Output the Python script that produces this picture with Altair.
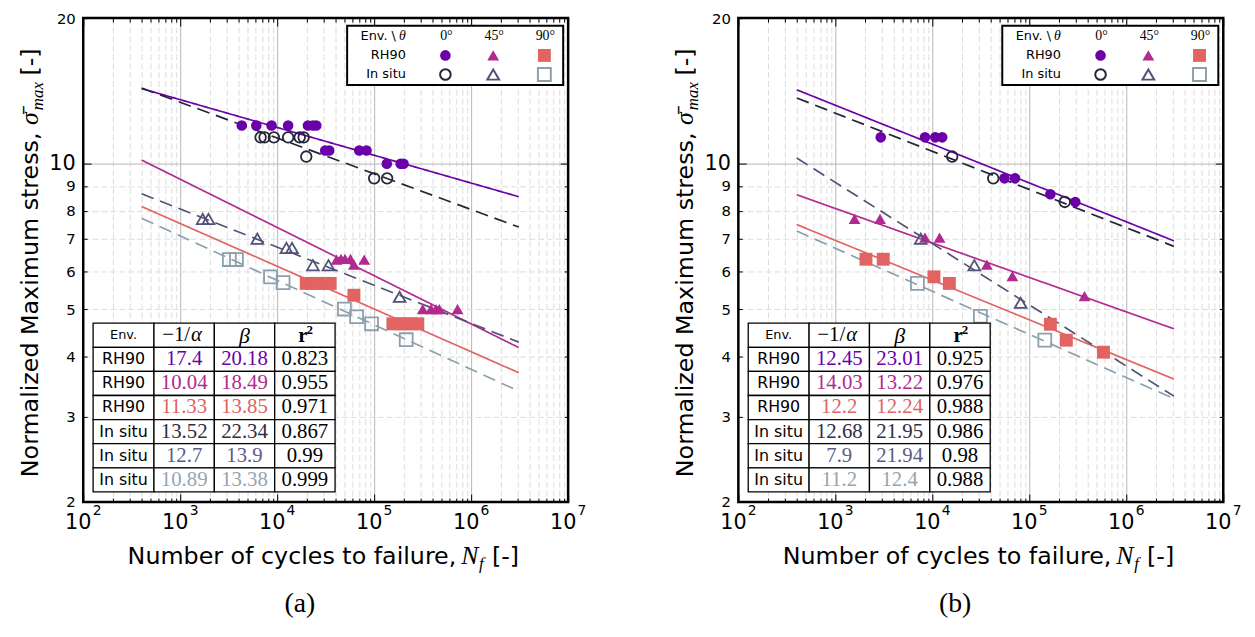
import altair as alt
import pandas as pd

# ---------------- data ----------------
SERIES = ["RH90 0°", "RH90 45°", "RH90 90°", "In situ 0°", "In situ 45°", "In situ 90°"]
SERIES_COLORS = ["#6a00a8", "#b12a90", "#e16462", "#25253a", "#525278", "#8b9fad"]
ANGLES = ["0°", "45°", "90°"]
ENVS = ["RH90", "In situ"]

X_TICKS = [m * 10 ** d for d in range(2, 7) for m in range(1, 10)] + [10 ** 7]
X_MAJOR = [100, 1000, 10000, 100000, 1000000, 10000000]
X_MAJOR_BASE = ["10", "10", "10", "10", "10", "10"]
X_MAJOR_EXP = ["2", "3", "4", "5", "6", "7"]
Y_TICKS = [2, 3, 4, 5, 6, 7, 8, 9, 10, 20]

# panel (a) test points
a_rh90_0_N = [4315, 6095, 8750, 12970, 20760, 23380, 25300, 31300, 34400, 70200, 83400, 135000, 187600, 201000]
a_rh90_0_S = [12.0, 12.0, 12.0, 12.0, 12.0, 12.0, 12.0, 10.65, 10.65, 10.65, 10.65, 10.0, 10.0, 10.0]
a_rh90_45_N = [41000, 45500, 50000, 57000, 61800, 79000, 317000, 386000, 435000, 470000, 724000]
a_rh90_45_S = [6.34, 6.36, 6.36, 6.36, 6.19, 6.34, 5.01, 5.01, 5.01, 5.01, 5.01]
a_rh90_90_N = [19950, 22900, 26300, 30200, 35200, 61800, 156000, 182000, 209000, 245000, 282000]
a_rh90_90_S = [5.66, 5.66, 5.66, 5.66, 5.66, 5.35, 4.67, 4.67, 4.67, 4.67, 4.67]
a_situ_0_N = [6745, 7410, 9250, 12970, 17070, 18750, 19950, 100000, 136000]
a_situ_0_S = [11.34, 11.34, 11.34, 11.34, 11.34, 11.34, 10.35, 9.33, 9.33]
a_situ_45_N = [1706, 1954, 6240, 12440, 14220, 23350, 33800, 183000]
a_situ_45_S = [7.69, 7.69, 7.00, 6.70, 6.70, 6.17, 6.17, 5.31]
a_situ_90_N = [3210, 3800, 8540, 11500, 49300, 65900, 94000, 214000]
a_situ_90_S = [6.34, 6.34, 5.84, 5.68, 5.01, 4.83, 4.67, 4.33]

# panel (b) test points
b_rh90_0_N = [2940, 8410, 10730, 12650, 55500, 71300, 165000, 298000]
b_rh90_0_S = [11.34, 11.34, 11.34, 11.34, 9.33, 9.33, 8.65, 8.34]
b_rh90_45_N = [1578, 2890, 8410, 11890, 36550, 67000, 371000]
b_rh90_45_S = [7.69, 7.69, 7.04, 7.04, 6.19, 5.86, 5.33]
b_rh90_90_N = [2070, 3120, 10400, 15000, 165000, 241000, 582000]
b_rh90_90_S = [6.35, 6.35, 5.84, 5.66, 4.66, 4.32, 4.08]
b_situ_0_N = [16030, 42500, 232000]
b_situ_0_S = [10.35, 9.33, 8.34]
b_situ_45_N = [7600, 27100, 81500]
b_situ_45_S = [7.00, 6.17, 5.16]
b_situ_90_N = [7020, 31300, 144600]
b_situ_90_S = [5.66, 4.84, 4.32]

# fitted lines (end points)
FIT_N = [400, 3100000]
a_fit_S = {
    "RH90 0°": [14.30, 8.55], "RH90 45°": [10.18, 4.17], "RH90 90°": [8.16, 3.70],
    "In situ 0°": [14.34, 7.40], "In situ 45°": [8.67, 4.28], "In situ 90°": [7.72, 3.39],
}
b_fit_S = {
    "RH90 0°": [14.22, 6.93], "RH90 45°": [8.63, 4.56], "RH90 90°": [7.49, 3.59],
    "In situ 0°": [13.68, 6.75], "In situ 45°": [10.28, 3.31], "In situ 90°": [7.26, 3.27],
}

# tables
TABLE_ENV = ["RH90", "RH90", "RH90", "In situ", "In situ", "In situ"]
a_inv_alpha = ["17.4", "10.04", "11.33", "13.52", "12.7", "10.89"]
a_beta = ["20.18", "18.49", "13.85", "22.34", "13.9", "13.38"]
a_r2 = ["0.823", "0.955", "0.971", "0.867", "0.99", "0.999"]
b_inv_alpha = ["12.45", "14.03", "12.2", "12.68", "7.9", "11.2"]
b_beta = ["23.01", "13.22", "12.24", "21.95", "21.94", "12.4"]
b_r2 = ["0.925", "0.976", "0.988", "0.986", "0.98", "0.988"]
TEXT_COLORS = ["#6a00a8", "#b12a90", "#e16462", "#2e2e45", "#5c5c85", "#93a5b3"]

# ---------------- layout ----------------
W, H = 490, 489
SANS = "DejaVu Sans"
SERIF = "Liberation Serif"
DECADE = "abs(log(datum.value)/LN10 - round(log(datum.value)/LN10)) < 0.01"

xs = alt.Scale(type="log", domain=[100, 1e7], nice=False)
ys = alt.Scale(type="log", domain=[2, 20], nice=False)
cs = alt.Scale(domain=SERIES, range=SERIES_COLORS)
shp = alt.Scale(domain=ANGLES, range=["circle", "triangle-up", "square"])

MINOR_TICK = [0, 4, 4, 30]

x_bottom = alt.Axis(
    values=X_TICKS, orient="bottom", offset=-8, domain=False, title=None,
    ticks=True, tickSize=8, tickColor="black", tickWidth=1,
    tickDash={"condition": {"test": DECADE, "value": []}, "value": MINOR_TICK},
    grid=True, gridWidth=1,
    gridColor={"condition": {"test": DECADE, "value": "#b5b5b5"}, "value": "#dddddd"},
    gridDash={"condition": {"test": DECADE, "value": []}, "value": [6, 3]},
    labels=False,
)
x_top = alt.Axis(
    values=X_TICKS, orient="top", offset=-8, domain=False, title=None,
    ticks=True, tickSize=8, tickColor="black", tickWidth=1,
    tickDash={"condition": {"test": DECADE, "value": []}, "value": MINOR_TICK},
    grid=False, labels=False,
)
Y_MAJOR = "datum.value == 10"
y_left = alt.Axis(
    values=Y_TICKS, orient="left", offset=-8, domain=False, title=None,
    ticks=True, tickSize=8, tickColor="black", tickWidth=1,
    tickDash={"condition": {"test": Y_MAJOR, "value": []}, "value": MINOR_TICK},
    grid=True, gridWidth=1,
    gridColor={"condition": {"test": Y_MAJOR, "value": "#b5b5b5"}, "value": "#dddddd"},
    gridDash={"condition": {"test": Y_MAJOR, "value": []}, "value": [6, 3]},
    labelExpr="'' + datum.value",
    labelFont=SANS, labelColor="black", labelPadding=8,
    labelFontSize={"condition": {"test": Y_MAJOR, "value": 21}, "value": 15},
    labelOverlap=False, labelBound=False, labelFlush=False,
)
y_right = alt.Axis(
    values=Y_TICKS, orient="right", offset=-8, domain=False, title=None,
    ticks=True, tickSize=8, tickColor="black", tickWidth=1,
    tickDash={"condition": {"test": Y_MAJOR, "value": []}, "value": MINOR_TICK},
    grid=False, labels=False,
)

TBL_X = [10, 71.5, 132.5, 193.5, 254.5]
TBL_Y0, TBL_RH = 308.3, 24.35
LEG_BOX = (266.7, 485, 7.7, 67.7)
LEG_COLS = [366, 414.3, 466]
LEG_ROWS = [37.7, 57]
LEG_HEAD_Y = 17.7

PT_FILLED = [115, 170, 115]
PT_OPEN = [80, 120, 90]
LEG_FILLED = [115, 180, 125]
LEG_OPEN = [75, 120, 95]


def text_layer(df, font, size, style="normal", weight="normal", align="center", baseline="middle", angle=0):
    return alt.Chart(df).mark_text(
        font=font, fontSize=size, fontStyle=style, fontWeight=weight,
        align=align, baseline=baseline, angle=angle,
    ).encode(
        x=alt.X("px:Q", scale=None, axis=None),
        y=alt.Y("py:Q", scale=None, axis=None),
        text="t:N",
        color=alt.Color("c:N", scale=None),
    )


def one_text(t, px, py, font, size, **kw):
    return text_layer(pd.DataFrame({"t": [t], "px": [px], "py": [py], "c": ["black"]}), font, size, **kw)


def panel(pts_map, fit_map, inv_alpha, beta, r2, letter):
    rows = []
    for s, (Ns, Ss) in pts_map.items():
        env, ang = s.rsplit(" ", 1)
        for n, v in zip(Ns, Ss):
            rows.append(dict(N=n, S=v, series=s, env=env, angle=ang))
    pts = pd.DataFrame(rows)
    lrows = []
    for s, Ss in fit_map.items():
        env, ang = s.rsplit(" ", 1)
        for n, v in zip(FIT_N, Ss):
            lrows.append(dict(N=n, S=v, series=s, env=env))
    fits = pd.DataFrame(lrows)

    lines = alt.Chart(fits).mark_line(strokeWidth=1.7, clip=True).encode(
        x=alt.X("N:Q", scale=xs, axis=x_bottom),
        y=alt.Y("S:Q", scale=ys, axis=y_left),
        color=alt.Color("series:N", scale=cs, legend=None),
        strokeDash=alt.StrokeDash("env:N", scale=alt.Scale(domain=ENVS, range=[[1, 0], [13, 7]]), legend=None),
        detail="series:N",
    )
    filled = alt.Chart(pts[pts.env == "RH90"]).mark_point(filled=True, opacity=1).encode(
        x=alt.X("N:Q", scale=xs, axis=x_top),
        y=alt.Y("S:Q", scale=ys, axis=y_right),
        color=alt.Color("series:N", scale=cs, legend=None),
        shape=alt.Shape("angle:N", scale=shp, legend=None),
        size=alt.Size("angle:O", scale=alt.Scale(domain=ANGLES, range=PT_FILLED), legend=None),
    )
    opened = alt.Chart(pts[pts.env == "In situ"]).mark_point(filled=False, opacity=1, strokeWidth=1.8).encode(
        x=alt.X("N:Q", scale=xs, axis=None),
        y=alt.Y("S:Q", scale=ys, axis=None),
        color=alt.Color("series:N", scale=cs, legend=None),
        shape=alt.Shape("angle:N", scale=shp, legend=None),
        size=alt.Size("angle:O", scale=alt.Scale(domain=ANGLES, range=PT_OPEN), legend=None),
    )

    # x tick labels 10^k drawn through the x scale
    xlab = pd.DataFrame({"v": X_MAJOR, "b": X_MAJOR_BASE, "e": X_MAJOR_EXP})
    xlab_base = alt.Chart(xlab).mark_text(
        font=SANS, fontSize=21, baseline="top", align="center", dx=-5, color="black"
    ).encode(x=alt.X("v:Q", scale=xs, axis=None), y=alt.value(H + 10), text="b:N")
    xlab_exp = alt.Chart(xlab).mark_text(
        font=SANS, fontSize=14, baseline="top", align="center", dx=14, color="black"
    ).encode(x=alt.X("v:Q", scale=xs, axis=None), y=alt.value(H + 2), text="e:N")

    # table
    cells = []
    for r in range(7):
        for c in range(4):
            cells.append(dict(x1=TBL_X[c], x2=TBL_X[c + 1], y1=TBL_Y0 + r * TBL_RH, y2=TBL_Y0 + (r + 1) * TBL_RH))
    cell_rects = alt.Chart(pd.DataFrame(cells)).mark_rect(fill="white", stroke="black", strokeWidth=1.3).encode(
        x=alt.X("x1:Q", scale=None, axis=None), x2="x2:Q",
        y=alt.Y("y1:Q", scale=None, axis=None), y2="y2:Q",
    )
    cx = [(TBL_X[i] + TBL_X[i + 1]) / 2 for i in range(4)]
    cy = [TBL_Y0 + (r + 0.5) * TBL_RH for r in range(7)]
    env_df = pd.DataFrame({"t": TABLE_ENV, "px": cx[0], "py": cy[1:], "c": "black"})
    num_df = pd.DataFrame({
        "t": inv_alpha + beta + r2,
        "px": [cx[1]] * 6 + [cx[2]] * 6 + [cx[3]] * 6,
        "py": cy[1:] * 3,
        "c": TEXT_COLORS + TEXT_COLORS + ["black"] * 6,
    })
    tbl = [
        cell_rects,
        text_layer(env_df, SANS, 16),
        text_layer(num_df, SERIF, 21),
        one_text("Env.", cx[0], cy[0], SANS, 13),
        one_text("−1/", cx[1] + 6, cy[0], SERIF, 21, align="right"),
        one_text("α", cx[1] + 7, cy[0], SERIF, 21, style="italic", align="left"),
        one_text("β", cx[2], cy[0] + 1, SERIF, 22, style="italic"),
        one_text("r", cx[3] - 2, cy[0] + 1, SERIF, 21, weight="bold"),
        one_text("2", cx[3] + 5, cy[0] - 5, SERIF, 13, weight="bold"),
    ]

    # legend
    box = alt.Chart(pd.DataFrame({"a": [0]})).mark_rect(fill="white", stroke="black", strokeWidth=2).encode(
        x=alt.value(LEG_BOX[0]), x2=alt.value(LEG_BOX[1]), y=alt.value(LEG_BOX[2]), y2=alt.value(LEG_BOX[3])
    )
    lm = []
    for s in SERIES:
        env, ang = s.rsplit(" ", 1)
        lm.append(dict(px=LEG_COLS[ANGLES.index(ang)], py=LEG_ROWS[ENVS.index(env)], series=s, env=env, angle=ang))
    lm = pd.DataFrame(lm)
    leg_f = alt.Chart(lm[lm.env == "RH90"]).mark_point(filled=True, opacity=1).encode(
        x=alt.X("px:Q", scale=None, axis=None), y=alt.Y("py:Q", scale=None, axis=None),
        color=alt.Color("series:N", scale=cs, legend=None),
        shape=alt.Shape("angle:N", scale=shp, legend=None),
        size=alt.Size("angle:O", scale=alt.Scale(domain=ANGLES, range=LEG_FILLED), legend=None),
    )
    leg_o = alt.Chart(lm[lm.env == "In situ"]).mark_point(filled=False, opacity=1, strokeWidth=2).encode(
        x=alt.X("px:Q", scale=None, axis=None), y=alt.Y("py:Q", scale=None, axis=None),
        color=alt.Color("series:N", scale=cs, legend=None),
        shape=alt.Shape("angle:N", scale=shp, legend=None),
        size=alt.Size("angle:O", scale=alt.Scale(domain=ANGLES, range=LEG_OPEN), legend=None),
    )
    leg = [
        box, leg_f, leg_o,
        one_text("Env. \\", 316, LEG_HEAD_Y, SANS, 13, align="right"),
        one_text("θ", 319, LEG_HEAD_Y, SERIF, 14, style="italic", align="left"),
        one_text(ANGLES[0], LEG_COLS[0] + 1, LEG_HEAD_Y, SERIF, 14),
        one_text(ANGLES[1], LEG_COLS[1] + 1, LEG_HEAD_Y, SERIF, 14),
        one_text(ANGLES[2], LEG_COLS[2] + 1, LEG_HEAD_Y, SERIF, 14),
        one_text(ENVS[0], 326, LEG_ROWS[0], SANS, 13, align="right"),
        one_text(ENVS[1], 326, LEG_ROWS[1], SANS, 13, align="right"),
    ]

    # axis titles
    XB = 552
    YB = -45.5
    titles = [
        one_text("Number of cycles to failure,", 377, XB, SANS, 24, align="right", baseline="alphabetic"),
        one_text("N", 382, XB, SERIF, 26, style="italic", align="left", baseline="alphabetic"),
        one_text("f", 400, XB + 5, SERIF, 17, style="italic", align="left", baseline="alphabetic"),
        one_text("[-]", 413, XB, SANS, 24, align="left", baseline="alphabetic"),
        one_text("Normalized Maximum stress,", YB, 115.6, SANS, 24, align="right", baseline="alphabetic", angle=270),
        one_text("σ\u0304", YB, 108, SERIF, 26, style="italic", align="left", baseline="alphabetic", angle=270),
        one_text("max", YB + 5, 93, SERIF, 17, style="italic", align="left", baseline="alphabetic", angle=270),
        one_text("[-]", YB, 58, SANS, 24, align="left", baseline="alphabetic", angle=270),
        one_text(letter, 219, 592, SERIF, 28),
    ]

    frame = alt.Chart(pd.DataFrame({"a": [0]})).mark_rect(fill=None, stroke="black", strokeWidth=2.5).encode(
        x=alt.value(0), x2=alt.value(W), y=alt.value(0), y2=alt.value(H)
    )

    layers = [lines, filled, opened, xlab_base, xlab_exp] + tbl + leg + titles + [frame]
    return alt.layer(*layers).resolve_axis(x="independent", y="independent").properties(width=W, height=H)


pa = panel({
    "RH90 0°": (a_rh90_0_N, a_rh90_0_S), "RH90 45°": (a_rh90_45_N, a_rh90_45_S),
    "RH90 90°": (a_rh90_90_N, a_rh90_90_S), "In situ 0°": (a_situ_0_N, a_situ_0_S),
    "In situ 45°": (a_situ_45_N, a_situ_45_S), "In situ 90°": (a_situ_90_N, a_situ_90_S),
}, a_fit_S, a_inv_alpha, a_beta, a_r2, "(a)")
pb = panel({
    "RH90 0°": (b_rh90_0_N, b_rh90_0_S), "RH90 45°": (b_rh90_45_N, b_rh90_45_S),
    "RH90 90°": (b_rh90_90_N, b_rh90_90_S), "In situ 0°": (b_situ_0_N, b_situ_0_S),
    "In situ 45°": (b_situ_45_N, b_situ_45_S), "In situ 90°": (b_situ_90_N, b_situ_90_S),
}, b_fit_S, b_inv_alpha, b_beta, b_r2, "(b)")

chart = alt.hconcat(pa, pb, spacing=86).properties(
    padding={"left": 9, "top": 0, "right": 5, "bottom": 0},
    background="white",
).configure_view(stroke=None)

chart.save("out.html", embed_options={"renderer": "svg", "actions": False})
